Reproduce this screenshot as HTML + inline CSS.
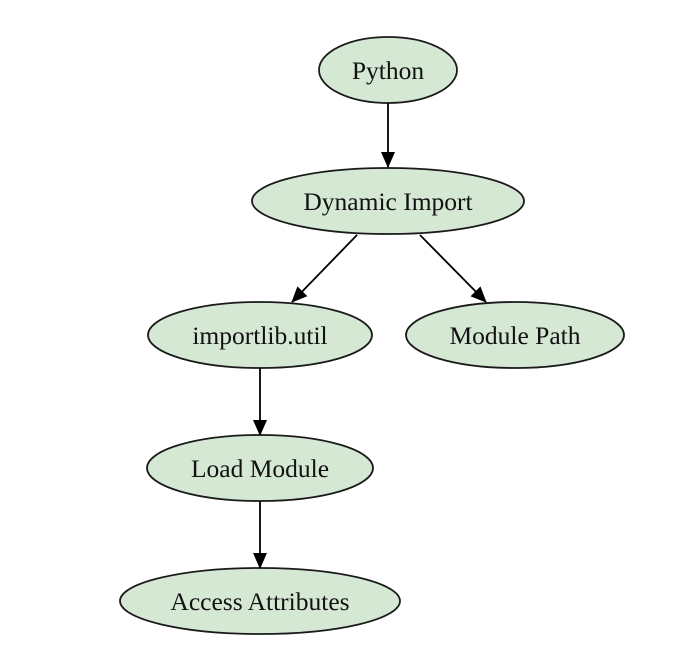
<!DOCTYPE html>
<html><head><style>body{margin:0;background:#fff}svg{display:block}</style></head><body>
<svg width="698" height="667" viewBox="0 0 698 667" xmlns="http://www.w3.org/2000/svg">
<defs><marker id="a" markerWidth="16" markerHeight="14" refX="15" refY="7" orient="auto" markerUnits="userSpaceOnUse"><path d="M0,0 L16,7 L0,14 z" fill="#000"/></marker></defs>
<g fill="#d5e8d4" stroke="#1a1a1a" stroke-width="1.8">
<ellipse cx="388" cy="70" rx="69" ry="33"/>
<ellipse cx="388" cy="201" rx="136" ry="33"/>
<ellipse cx="260" cy="335" rx="112" ry="33"/>
<ellipse cx="515" cy="335" rx="109" ry="33"/>
<ellipse cx="260" cy="468" rx="113" ry="33"/>
<ellipse cx="260" cy="601" rx="140" ry="33"/>
</g>
<g stroke="#000" stroke-width="1.8" marker-end="url(#a)">
<line x1="388" y1="103" x2="388" y2="167"/>
<line x1="357" y1="235" x2="292" y2="302"/>
<line x1="420" y1="235" x2="486" y2="302"/>
<line x1="260" y1="368" x2="260" y2="435"/>
<line x1="260" y1="501" x2="260" y2="568"/>
</g>
<g font-family="Liberation Serif, serif" font-size="25.5" text-anchor="middle" fill="#111">
<text x="388" y="79">Python</text>
<text x="388" y="210">Dynamic Import</text>
<text x="260" y="344">importlib.util</text>
<text x="515" y="344">Module Path</text>
<text x="260" y="477">Load Module</text>
<text x="260" y="610">Access Attributes</text>
</g>
</svg>
</body></html>
